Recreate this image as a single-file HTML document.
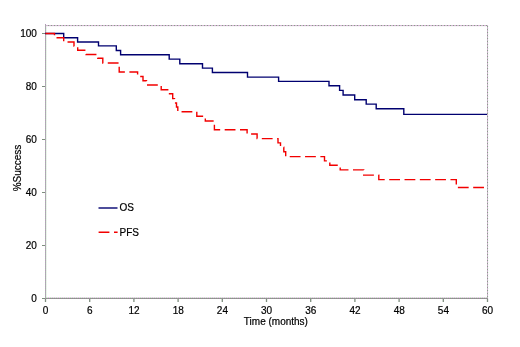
<!DOCTYPE html>
<html><head><meta charset="utf-8"><style>
html,body{margin:0;padding:0;background:#fff;}
body{width:520px;height:347px;overflow:hidden;}
svg{display:block;will-change:transform;}
text{font-family:"Liberation Sans",sans-serif;font-size:10px;fill:#000;}
</style></head><body>
<svg width="520" height="347" viewBox="0 0 520 347">
<rect x="0" y="0" width="520" height="347" fill="#fff"/>
<g stroke-width="1" fill="none" shape-rendering="crispEdges">
<line x1="45" y1="25.5" x2="488" y2="25.5" stroke="#86a086" stroke-dasharray="1 2"/>
<line x1="46" y1="25.5" x2="488" y2="25.5" stroke="#d4b4d4" stroke-dasharray="2 1"/>
<line x1="46" y1="26.5" x2="487" y2="26.5" stroke="#f4fbf4" stroke-dasharray="1 1"/>
<line x1="47" y1="26.5" x2="487" y2="26.5" stroke="#fcf0fc" stroke-dasharray="1 1"/>
<line x1="487.5" y1="26" x2="487.5" y2="299" stroke="#8c9c8c" stroke-dasharray="1 2"/>
<line x1="487.5" y1="27" x2="487.5" y2="299" stroke="#c8b0c8" stroke-dasharray="2 1"/>
<line x1="488.5" y1="26" x2="488.5" y2="299" stroke="#f2f9f6" stroke-dasharray="1 1"/>
<line x1="45.5" y1="24" x2="45.5" y2="302" stroke="#b494bc" stroke-dasharray="1 1"/>
<line x1="45.5" y1="25" x2="45.5" y2="302" stroke="#a4bca4" stroke-dasharray="1 1"/>
<line x1="46.5" y1="26" x2="46.5" y2="298" stroke="#eaf4ea"/>
<line x1="42" y1="298.5" x2="488" y2="298.5" stroke="#84a084" stroke-dasharray="1 1"/>
<line x1="43" y1="298.5" x2="488" y2="298.5" stroke="#a484a4" stroke-dasharray="1 1"/>
<line x1="46" y1="297.5" x2="487" y2="297.5" stroke="#c8f0c8" stroke-dasharray="1 1"/>
<line x1="47" y1="297.5" x2="487" y2="297.5" stroke="#f8ccf8" stroke-dasharray="1 1"/>
</g>
<g stroke="#7e8e7e" stroke-width="1" fill="none" shape-rendering="crispEdges">
<line x1="42" y1="298.5" x2="45" y2="298.5"/>
<line x1="42" y1="245.5" x2="45" y2="245.5"/>
<line x1="42" y1="192.5" x2="45" y2="192.5"/>
<line x1="42" y1="139.5" x2="45" y2="139.5"/>
<line x1="42" y1="86.5" x2="45" y2="86.5"/>
<line x1="42" y1="33.5" x2="45" y2="33.5"/>
<line x1="45.50" y1="299" x2="45.50" y2="302" stroke-width="1.3" shape-rendering="auto"/>
<line x1="89.70" y1="299" x2="89.70" y2="302" stroke-width="1.3" shape-rendering="auto"/>
<line x1="133.90" y1="299" x2="133.90" y2="302" stroke-width="1.3" shape-rendering="auto"/>
<line x1="178.10" y1="299" x2="178.10" y2="302" stroke-width="1.3" shape-rendering="auto"/>
<line x1="222.30" y1="299" x2="222.30" y2="302" stroke-width="1.3" shape-rendering="auto"/>
<line x1="266.50" y1="299" x2="266.50" y2="302" stroke-width="1.3" shape-rendering="auto"/>
<line x1="310.70" y1="299" x2="310.70" y2="302" stroke-width="1.3" shape-rendering="auto"/>
<line x1="354.90" y1="299" x2="354.90" y2="302" stroke-width="1.3" shape-rendering="auto"/>
<line x1="399.10" y1="299" x2="399.10" y2="302" stroke-width="1.3" shape-rendering="auto"/>
<line x1="443.30" y1="299" x2="443.30" y2="302" stroke-width="1.3" shape-rendering="auto"/>
<line x1="487.50" y1="299" x2="487.50" y2="302" stroke-width="1.3" shape-rendering="auto"/>
</g>
<g stroke="#000" stroke-width="0.2">
<text x="36.90" y="301.80" text-anchor="end">0</text>
<text x="36.90" y="248.80" text-anchor="end">20</text>
<text x="36.90" y="195.80" text-anchor="end">40</text>
<text x="36.90" y="142.80" text-anchor="end">60</text>
<text x="36.90" y="89.80" text-anchor="end">80</text>
<text x="36.90" y="36.80" text-anchor="end">100</text>
<text x="45.60" y="313.60" text-anchor="middle">0</text>
<text x="89.80" y="313.60" text-anchor="middle">6</text>
<text x="134.00" y="313.60" text-anchor="middle">12</text>
<text x="178.20" y="313.60" text-anchor="middle">18</text>
<text x="222.40" y="313.60" text-anchor="middle">24</text>
<text x="266.60" y="313.60" text-anchor="middle">30</text>
<text x="310.80" y="313.60" text-anchor="middle">36</text>
<text x="355.00" y="313.60" text-anchor="middle">42</text>
<text x="399.20" y="313.60" text-anchor="middle">48</text>
<text x="443.40" y="313.60" text-anchor="middle">54</text>
<text x="487.60" y="313.60" text-anchor="middle">60</text>
<text x="275.90" y="324.50" text-anchor="middle">Time (months)</text>
<g transform="translate(20.6,168) rotate(-90)"><text x="0.00" y="0.00" text-anchor="middle">%Success</text></g>
<text x="119.60" y="211.10" text-anchor="start">OS</text>
<text x="119.60" y="235.90" text-anchor="start">PFS</text>
</g>
<path d="M45.0,33.5 H63.7 V37.8 H77.6 V42.0 H98.5 V45.9 H116.3 V50.5 H120.6 V54.8 H169.2 V59.1 H179.8 V63.8 H202.5 V68.1 H212.4 V72.5 H247.5 V77.1 H278.6 V81.4 H329.0 V85.8 H339.6 V90.4 H343.1 V95.0 H354.7 V99.7 H366.2 V104.1 H376.2 V108.8 H403.8 V114.4 H487.0" fill="none" stroke="#000070" stroke-width="1.4"/>
<path d="M45.0,33.5 H54.5 V37.7 H63.7 V42.0 H74.0 V46.0 H77.7 V50.2 H86.0 V54.5 H97.8 V58.3 H102.8 V63.0 H119.2 V72.0 H137.6 V76.5 H143.0 V80.8 H146.5 V85.0 H161.2 V89.7 H168.5 V93.8 H172.7 V98.6 H174.5 V103.0 H176.5 V107.0 H177.8 V111.7 H196.8 V116.2 H205.3 V121.0 H214.4 V129.8 H247.1 V134.0 H257.1 V138.6 H278.0 V142.9 H280.5 V147.3 H283.8 V151.7 H285.7 V156.6 H324.5 V160.9 H329.8 V165.3 H340.2 V169.9 H363.7 V175.1 H378.8 V179.6 H456.3 V187.5 H487.0" fill="none" stroke="#f20000" stroke-width="1.4" stroke-dasharray="10.8 4.51" stroke-dashoffset="-0.4"/>
<line x1="98.5" y1="208" x2="117.5" y2="208" stroke="#000070" stroke-width="1.4"/>
<path d="M98.6,232.3 H117.6" stroke="#f20000" stroke-width="1.4" stroke-dasharray="10.8 4.6"/>
</svg>
</body></html>
